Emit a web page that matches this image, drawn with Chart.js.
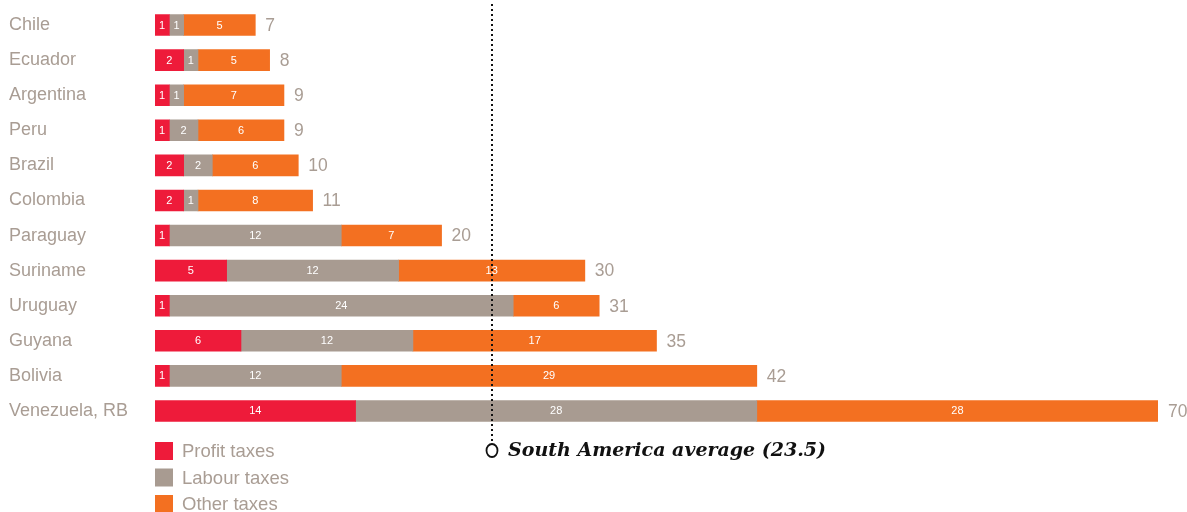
<!DOCTYPE html>
<html>
<head>
<meta charset="utf-8">
<script src="https://cdn.jsdelivr.net/npm/chart.js@4"></script>
<style>
  html, body { margin: 0; padding: 0; background: #fff; }
  #wrap { width: 1187px; height: 512px; }
</style>
</head>
<body>
<div id="wrap"><canvas id="myChart" width="1187" height="512"></canvas></div>
<script>
const countries = ['Chile', 'Ecuador', 'Argentina', 'Peru', 'Brazil', 'Colombia', 'Paraguay',
  'Suriname', 'Uruguay', 'Guyana', 'Bolivia', 'Venezuela, RB'];
const profitTaxes = [1, 2, 1, 1, 2, 2, 1, 5, 1, 6, 1, 14];
const labourTaxes = [1, 1, 1, 2, 2, 1, 12, 12, 24, 12, 12, 28];
const otherTaxes  = [5, 5, 7, 6, 6, 8, 7, 13, 6, 17, 29, 28];
const totals      = [7, 8, 9, 9, 10, 11, 20, 30, 31, 35, 42, 70];
const seriesNames = ['Profit taxes', 'Labour taxes', 'Other taxes'];
const avgLabel = 'South America average (23.5)';
const avgValue = 23.5;

const textGrey = '#a99d94';
const colours = ['#ee1b3a', '#a89b91', '#f37021'];
const sansFont = '"Liberation Sans", Arial, sans-serif';

// white numbers inside each segment + grey totals at bar end
const barLabels = {
  id: 'barLabels',
  afterDatasetsDraw(chart) {
    const ctx = chart.ctx;
    ctx.save();
    ctx.textBaseline = 'middle';
    chart.data.datasets.forEach((ds, di) => {
      const meta = chart.getDatasetMeta(di);
      meta.data.forEach((bar, i) => {
        const v = ds.data[i];
        if (!v) return;
        ctx.fillStyle = '#ffffff';
        ctx.font = '11px ' + sansFont;
        ctx.textAlign = 'center';
        ctx.fillText(String(v), (bar.base + bar.x) / 2, bar.y + 0.5);
      });
    });
    const lastMeta = chart.getDatasetMeta(chart.data.datasets.length - 1);
    lastMeta.data.forEach((bar, i) => {
      ctx.fillStyle = textGrey;
      ctx.font = '17.5px ' + sansFont;
      ctx.textAlign = 'left';
      ctx.fillText(String(totals[i]), bar.x + 10, bar.y + 1);
    });
    ctx.restore();
  }
};

// dotted average line with circle marker and label
const averageLine = {
  id: 'averageLine',
  afterDatasetsDraw(chart) {
    const ctx = chart.ctx;
    const x = Math.round(chart.scales.x.getPixelForValue(avgValue));
    const cy = 450.5;
    ctx.save();
    ctx.strokeStyle = '#111';
    ctx.lineWidth = 2;
    ctx.setLineDash([2, 3]);
    ctx.beginPath();
    ctx.moveTo(x, 4);
    ctx.lineTo(x, cy - 7);
    ctx.stroke();
    ctx.setLineDash([]);
    ctx.lineWidth = 1.8;
    ctx.fillStyle = '#fff';
    ctx.beginPath();
    ctx.ellipse(x, cy, 5.5, 6.5, 0, 0, Math.PI * 2);
    ctx.fill();
    ctx.stroke();
    ctx.fillStyle = '#111';
    ctx.font = 'italic bold 19px "DejaVu Serif", "Liberation Serif", serif';
    ctx.textAlign = 'left';
    ctx.textBaseline = 'middle';
    ctx.fillText(avgLabel, x + 16, cy + 1);
    ctx.restore();
  }
};

// stacked legend under the bars
const stackedLegend = {
  id: 'stackedLegend',
  afterDraw(chart) {
    const ctx = chart.ctx;
    const x0 = chart.chartArea.left;
    ctx.save();
    ctx.font = '18.5px ' + sansFont;
    ctx.textBaseline = 'middle';
    ctx.textAlign = 'left';
    chart.data.datasets.forEach((ds, i) => {
      const cy = 451 + i * 26.5;
      ctx.fillStyle = ds.backgroundColor;
      ctx.fillRect(x0, cy - 9, 18, 18);
      ctx.fillStyle = textGrey;
      ctx.fillText(ds.label, x0 + 27, cy + 1);
    });
    ctx.restore();
  }
};

const ctx = document.getElementById('myChart').getContext('2d');
const myChart = new Chart(ctx, {
  type: 'bar',
  data: {
    labels: countries,
    datasets: [
      { label: seriesNames[0], data: profitTaxes, backgroundColor: colours[0] },
      { label: seriesNames[1], data: labourTaxes, backgroundColor: colours[1] },
      { label: seriesNames[2], data: otherTaxes, backgroundColor: colours[2] }
    ]
  },
  options: {
    indexAxis: 'y',
    responsive: false,
    animation: false,
    layout: { padding: { left: 9, right: 29, top: 7.5, bottom: 83.5 } },
    datasets: { bar: { barThickness: 21, borderWidth: 0 } },
    plugins: {
      legend: { display: false },
      tooltip: { enabled: false }
    },
    scales: {
      x: { stacked: true, min: 0, max: 70, display: false },
      y: {
        stacked: true,
        grid: { display: false },
        border: { display: false },
        ticks: {
          crossAlign: 'far',
          color: textGrey,
          font: { family: sansFont, size: 18 }
        },
        afterFit(scale) {
          scale.width = 146;
          scale.paddingTop = 0;
          scale.paddingBottom = 0;
        }
      }
    }
  },
  plugins: [barLabels, averageLine, stackedLegend]
});
</script>
</body>
</html>
